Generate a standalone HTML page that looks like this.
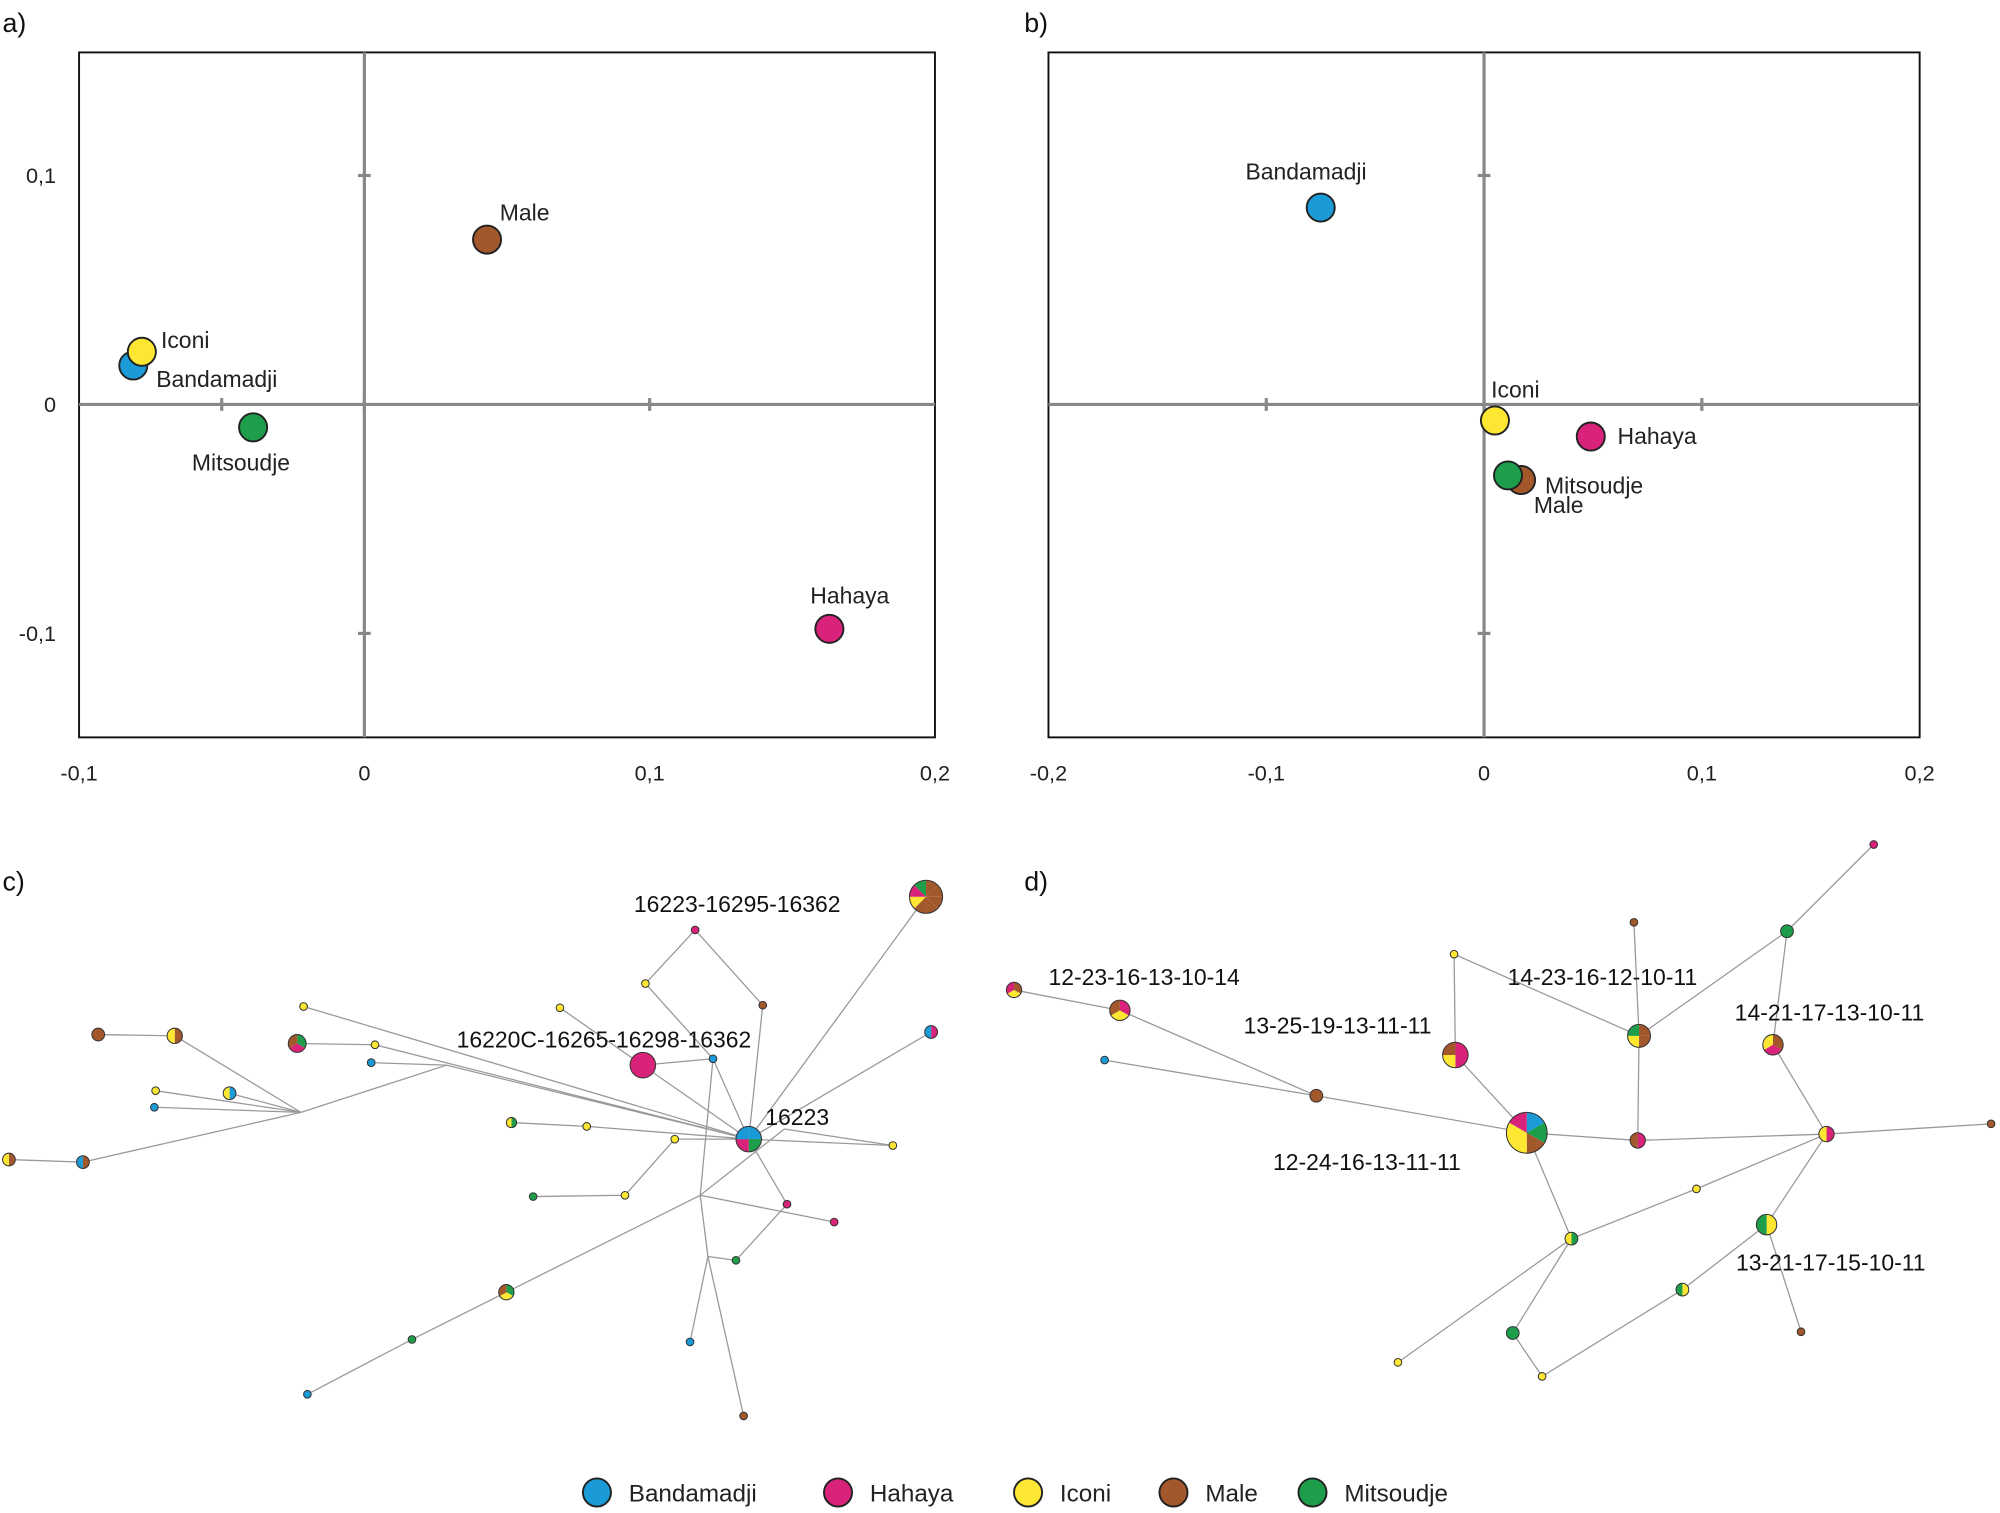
<!DOCTYPE html>
<html><head><meta charset="utf-8">
<style>
html,body{margin:0;padding:0;background:#fff;}
svg{display:block;font-family:"Liberation Sans",Arial,sans-serif;}
</style></head>
<body>
<svg id="fig" width="2000" height="1513" viewBox="0 0 1568 1186" xmlns="http://www.w3.org/2000/svg">
<g id="pa"></g>
<g id="pb"></g>
<g id="pc"></g>
<g id="pd"></g>
<g id="lg"></g>
</svg>
<script>
const populations=["Bandamadji","Hahaya","Iconi","Male","Mitsoudje"];
const colors={Bandamadji:"#1a9ad6",Hahaya:"#d9227a",Iconi:"#fde733",Male:"#a3582c",Mitsoudje:"#1e9e4a"};
const aX=[-0.081,0.163,-0.078,0.043,-0.039];
const aY=[0.017,-0.098,0.023,0.072,-0.010];
const bX=[-0.075,0.049,0.005,0.017,0.011];
const bY=[0.086,-0.014,-0.007,-0.033,-0.031];
const aXTicks=["-0,1","0","0,1","0,2"];const aXTickVals=[-0.1,0,0.1,0.2];
const bXTicks=["-0,2","-0,1","0","0,1","0,2"];const bXTickVals=[-0.2,-0.1,0,0.1,0.2];
const yTicks=["0,1","0","-0,1"];const yTickVals=[0.1,0,-0.1];

const NS="http://www.w3.org/2000/svg";
function mk(p,t,a,txt){const e=document.createElementNS(NS,t);for(const k in a)e.setAttribute(k,a[k]);if(txt!==undefined)e.textContent=txt;p.appendChild(e);return e;}

function pca(g,L,R,xmin,xmax,xs,ys,xt,xtv,labels,letter,lx,minor){
  const T=41,B=578;
  const sx=v=>L+(v-xmin)/(xmax-xmin)*(R-L);
  const sy=v=>317-v*1795;
  let t=mk(g,"text",{x:lx,y:25,"font-size":21,fill:"#111"},letter);
  
  
  let r=mk(g,"rect",{x:L,y:T,width:R-L,height:B-T,fill:"none",stroke:"#111","stroke-width":1.5});
  
  
  mk(g,"line",{x1:L,x2:R,y1:sy(0),y2:sy(0),stroke:"#888","stroke-width":2.5});
  mk(g,"line",{x1:sx(0),x2:sx(0),y1:T,y2:B,stroke:"#888","stroke-width":2.5});
  minor.forEach(v=>{const x=sx(v);mk(g,"line",{x1:x,x2:x,y1:sy(0)-5,y2:sy(0)+5,stroke:"#888","stroke-width":2.5});});
  xtv.forEach((v,i)=>{
    const x=sx(v);
    if(x>L+5&&x<R-5) mk(g,"line",{x1:x,x2:x,y1:sy(0)-5,y2:sy(0)+5,stroke:"#888","stroke-width":2.5});
    let tx=mk(g,"text",{x:x,y:612,"font-size":17,fill:"#222","text-anchor":"middle"},xt[i]);
    
    
  });
  yTickVals.forEach((v,i)=>{
    const y=sy(v);
    if(v!==0) mk(g,"line",{x1:sx(0)-5,x2:sx(0)+5,y1:y,y2:y,stroke:"#888","stroke-width":2.5});
    if(letter==="a)"){let ty=mk(g,"text",{x:44,y:y+6,"font-size":17,fill:"#222","text-anchor":"end"},yTicks[i]);
    
    }
  });
  populations.forEach((p,i)=>{
    const c=mk(g,"circle",{cx:sx(xs[i]),cy:sy(ys[i]),r:11,fill:colors[p],stroke:"#222","stroke-width":1.5});
    
    
    const lb=labels[i];
    const tt=mk(g,"text",{x:sx(xs[i])+lb[0],y:sy(ys[i])+lb[1],"font-size":18,fill:"#222"},p);
    
    
  });
}
pca(document.getElementById("pa"),62,733,-0.1,0.2,aX,aY,aXTicks,aXTickVals,
 [[18,17],[-15,-20],[15,-3],[10,-15],[-48,34]],"a)",2,[-0.05]);
pca(document.getElementById("pb"),822,1505,-0.2,0.2,bX,bY,bXTicks,bXTickVals,
 [[-59,-22],[21,6],[-3,-18],[10,26],[29,14]],"b)",803,[]);

function pie(g,cx,cy,r,cols,name){
  const grp=mk(g,"g",{});
  
  
  if(cols.length===1){mk(grp,"circle",{cx,cy,r,fill:colors[cols[0]],stroke:"#333","stroke-width":0.8});return;}
  let a0=-Math.PI/2;const n=cols.length;
  cols.forEach(c=>{const a1=a0+2*Math.PI/n;
    const d=`M${cx},${cy}L${cx+r*Math.cos(a0)},${cy+r*Math.sin(a0)}A${r},${r} 0 0 1 ${cx+r*Math.cos(a1)},${cy+r*Math.sin(a1)}Z`;
    mk(grp,"path",{d,fill:colors[c]});a0=a1;});
  mk(grp,"circle",{cx,cy,r,fill:"none",stroke:"#333","stroke-width":0.8});
}
const B="Bandamadji",H="Hahaya",I="Iconi",M="Male",G="Mitsoudje";
function net(g,nodes,edges,labels,letter,lx,ly){
  let t=mk(g,"text",{x:lx,y:ly,"font-size":21,fill:"#111"},letter);
  
  
  edges.forEach(e=>{const a=nodes[e[0]],b=nodes[e[1]];
    const l=mk(g,"line",{x1:a[0],y1:a[1],x2:b[0],y2:b[1],stroke:"#999","stroke-width":1});
    
    });
  for(const k in nodes){const n=nodes[k];if(n[2]>0)pie(g,n[0],n[1],n[2],n[3],'haplotype-node');}
  labels.forEach(l=>{const tt=mk(g,"text",{x:l[0],y:l[1],"font-size":18,fill:"#111"},l[2]);
    
    });
}
const cNodes={n1:[726,703,13,[M,M,M,M,M,I,H,G]],n2:[545,729,3,[H]],n3:[506,771,3,[I]],n4:[598,788,3,[M]],
 n5:[504,835,10,[H]],n6:[559,830,3,[B]],n7:[587,893,10,[B,G,H,B]],n8:[730,809,5,[H,B]],n9:[700,898,3,[I]],
 n10:[617,944,3,[H]],n11:[654,958,3,[H]],n12:[577,988,3,[G]],n13:[541,1052,3,[B]],n14:[583,1110,3,[M]],
 n15:[529,893,3,[I]],n16:[490,937,3,[I]],n17:[418,938,3,[G]],n18:[460,883,3,[I]],n19:[401,880,4,[G,I]],
 n20:[397,1013,6,[G,I,M]],n21:[323,1050,3,[G]],n22:[241,1093,3,[B]],n23:[439,790,3,[I]],n24:[233,818,7,[G,H,M]],
 n25:[291,833,3,[B]],n26:[294,819,3,[I]],n27:[238,789,3,[I]],n28:[77,811,5,[M]],n29:[137,812,6,[M,I]],
 n30:[122,855,3,[I]],n31:[180,857,5,[B,I]],n32:[121,868,3,[B]],n33:[7,909,5,[M,I]],n34:[65,911,5,[M,B]],
 J1:[236,872,0],J2:[350,835,0],J3:[549,937,0],J4:[555,985,0],J5:[565,870,0],J6:[615,885,0]};
const cEdges=[["n1","n7"],["n2","n3"],["n3","n6"],["n2","n4"],["n4","n7"],["n6","n7"],["n5","n6"],["n8","n7"],["n7","n9"],
 ["n7","n10"],["n10","n12"],["n7","n15"],["n15","n16"],["n16","n17"],["n7","n18"],["n18","n19"],["n23","n7"],
 ["n27","n7"],["n24","n26"],["n26","n7"],["n25","J2"],["n28","n29"],["n29","J1"],["n30","J1"],["n31","J1"],["n32","J1"],
 ["n33","n34"],["n34","J1"],["J1","J2"],["J2","n7"],["J3","n20"],["n20","n21"],["n21","n22"],["J3","n6"],["J3","J6"],
 ["J3","J4"],["J4","n13"],["J4","n14"],["J4","n12"],["J3","n11"],["J6","n9"]];
net(document.getElementById("pc"),cNodes,cEdges,
 [[497,715,"16223-16295-16362"],[358,821,"16220C-16265-16298-16362"],[600,882,"16223"]],"c)",2,698);
const dNodes={m1:[1197,888,16,[B,G,M,I,I,H]],m2:[1141,827,10,[H,H,I,M]],m3:[1140,748,3,[I]],m4:[1285,812,9,[M,M,I,G]],
 m5:[1281,723,3,[M]],m6:[1401,730,5,[G]],m7:[1469,662,3,[H]],m8:[1390,819,8,[M,H,I]],m9:[1432,889,6,[H,I]],
 m10:[1561,881,3,[M]],m11:[1284,894,6,[H,M]],m12:[1032,859,5,[M]],m13:[866,831,3,[B]],m14:[878,792,8,[H,I,M]],
 m15:[795,776,6,[M,I,H]],m16:[1232,971,5,[G,I]],m17:[1330,932,3,[I]],m18:[1385,960,8,[I,G]],m19:[1412,1044,3,[M]],
 m20:[1319,1011,5,[I,G]],m21:[1186,1045,5,[G]],m22:[1209,1079,3,[I]],m23:[1096,1068,3,[I]]};
const dEdges=[["m15","m14"],["m14","m12"],["m13","m12"],["m12","m1"],["m3","m2"],["m2","m1"],["m3","m4"],["m5","m4"],
 ["m4","m11"],["m1","m11"],["m4","m6"],["m6","m7"],["m6","m8"],["m8","m9"],["m9","m10"],["m9","m11"],["m1","m16"],
 ["m16","m17"],["m17","m9"],["m16","m23"],["m16","m21"],["m9","m18"],["m18","m19"],["m18","m20"],["m20","m22"],["m21","m22"]];
net(document.getElementById("pd"),dNodes,dEdges,
 [[822,772,"12-23-16-13-10-14"],[1182,772,"14-23-16-12-10-11"],[975,810,"13-25-19-13-11-11"],[1360,800,"14-21-17-13-10-11"],
  [998,917,"12-24-16-13-11-11"],[1361,996,"13-21-17-15-10-11"]],"d)",803,698);

const lgX=[468,657,806,920,1029];
const lg=document.getElementById("lg");
populations.forEach((p,i)=>{
  const c=mk(lg,"circle",{cx:lgX[i],cy:1170,r:11,fill:colors[p],stroke:"#222","stroke-width":1.5});
  
  
  const t=mk(lg,"text",{x:lgX[i]+25,y:1177,"font-size":19,fill:"#222"},p);
  
  
});
</script>
</body></html>
